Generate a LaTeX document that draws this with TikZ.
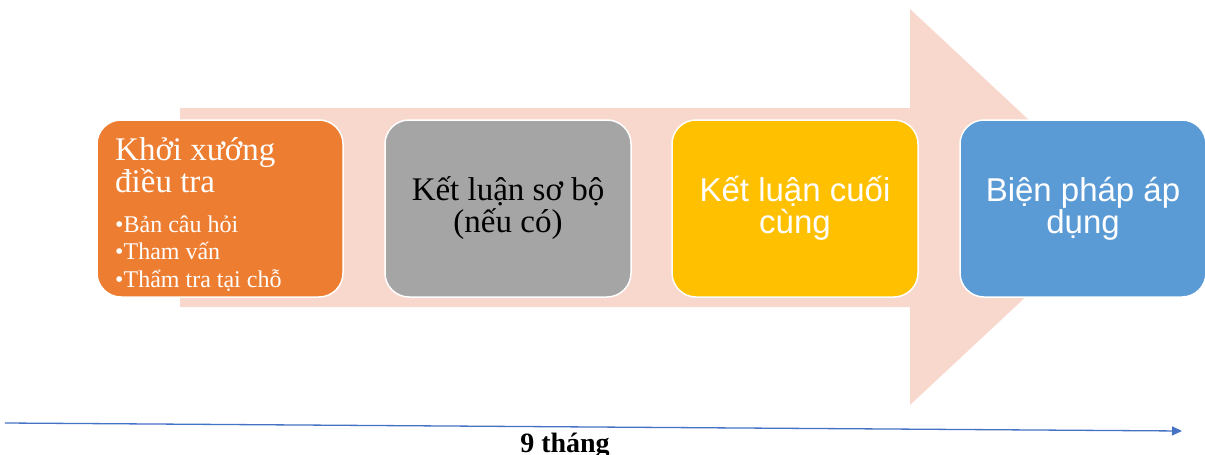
\documentclass[tikz,border=0pt]{standalone}
\usepackage{fontspec}
\setmainfont{Liberation Serif}
\newfontfamily\arialfont{Liberation Sans}
\usetikzlibrary{arrows.meta}
\definecolor{peach}{HTML}{F8D7CC}
\definecolor{stageorange}{HTML}{ED7D31}
\definecolor{stagegray}{HTML}{A5A5A5}
\definecolor{stageyellow}{HTML}{FFC000}
\definecolor{stageblue}{HTML}{5B9BD5}
\definecolor{timeline}{HTML}{4472C4}
\begin{document}
\begin{tikzpicture}[x=1pt,y=-1pt,
  stage/.style={rounded corners=24pt, draw=white, line width=1.5pt,
    minimum width=246pt, minimum height=177pt, inner sep=0pt,
    align=center},
  bigtext/.style={font=\fontsize{33}{32}\selectfont},
  sanstext/.style={font=\arialfont\fontsize{33}{32}\selectfont, text=white},
  bullettext/.style={font=\fontsize{24}{27.5}\selectfont, text=white}]
\useasboundingbox (0,0) rectangle (1205,455);
% broad process arrow behind the stages
\fill[peach] (180,108) -- (910,108) -- (910,9) -- (1122,207)
  -- (910,405) -- (910,307) -- (180,307) -- cycle;
% stages
\node[stage, fill=stageorange] (s1) at (220,208.5) {};
\node[stage, fill=stagegray, bigtext, text=black] (s2) at (508,208.5)
  {Kết luận sơ bộ\\(nếu có)};
\node[stage, fill=stageyellow, sanstext] (s3) at (795,208.5)
  {Kết luận cuối\\cùng};
\node[stage, fill=stageblue, sanstext] (s4) at (1083,208.5)
  {Biện pháp áp\\dụng};
% contents of the first stage (anchored at the last baseline)
\node[anchor=base west, inner sep=0pt, align=left, text=white, bigtext]
  (t1) at (115,192) {Khởi xướng\\điều tra};
\node[anchor=base west, inner sep=0pt, align=left, bullettext]
  (b1) at (115,287) {•Bản câu hỏi\\•Tham vấn\\•Thẩm tra tại chỗ};
% timeline
\coordinate (tl0) at (5,423);
\coordinate (tl1) at (1182,431);
\draw[timeline, line width=1.3pt, -{Triangle[length=10pt,width=9pt]}] (tl0) -- (tl1);
\node[anchor=base, inner sep=0pt, font=\bfseries\fontsize{28}{30}\selectfont]
  (dur) at (565,452) {9 tháng};
\end{tikzpicture}
\end{document}
